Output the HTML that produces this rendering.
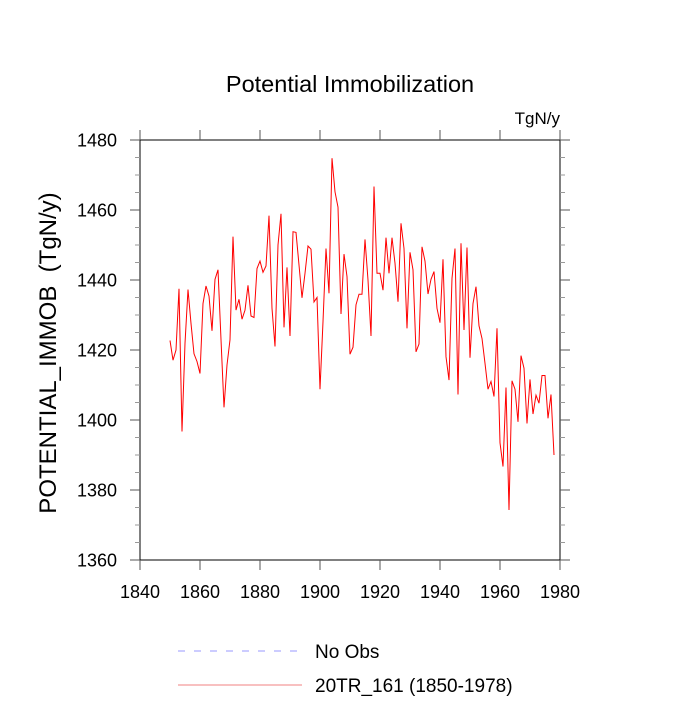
<!DOCTYPE html>
<html><head><meta charset="utf-8"><style>
body{margin:0;background:#fff}
svg text{font-family:"Liberation Sans",sans-serif;fill:#000}
</style></head><body>
<svg id="chart" width="700" height="700" xmlns="http://www.w3.org/2000/svg">
<text x="350" y="92" font-size="23.5" text-anchor="middle">Potential Immobilization</text>
<text x="560" y="124" font-size="17" text-anchor="end">TgN/y</text>
<text transform="translate(56,353) rotate(-90)" font-size="24" text-anchor="middle" xml:space="preserve">POTENTIAL_IMMOB  (TgN/y)</text>
<g id="axes"></g>
<polyline id="series" fill="none" stroke="#ff0000" stroke-width="1"/>
<g>
<line x1="178" y1="651" x2="300" y2="651" stroke="#9999ff" stroke-width="1" stroke-dasharray="7,9"/>
<text x="315" y="658" font-size="19">No Obs</text>
<line x1="178" y1="685" x2="302" y2="685" stroke="#f08080" stroke-width="1"/>
<text x="315" y="692" font-size="19">20TR_161 (1850-1978)</text>
</g>
</svg>
<script>
const startYear = 1850;
const values = [1422.7,1417.1,1420,1437.5,1396.7,1421.9,1437.3,1427.6,1418.9,1416.7,1413.3,1433.3,1438.3,1435.4,1425.5,1440.2,1442.9,1423,1403.6,1415.7,1422.9,1452.4,1431.4,1434.5,1428.8,1431.4,1438.5,1429.7,1429.3,1443.3,1445.4,1442.2,1444,1458.4,1431.9,1421,1450,1458.9,1426.5,1443.6,1424,1453.8,1453.6,1444.3,1434.9,1441.9,1449.7,1448.8,1433.7,1435,1408.8,1428.1,1449,1436.2,1474.8,1465.2,1460.8,1430.3,1447.4,1441,1418.8,1420.8,1432.9,1435.9,1435.9,1451.6,1440,1424,1466.7,1441.9,1441.9,1437.1,1452.1,1441.9,1452.1,1444.8,1433.8,1456.2,1449,1426.2,1447.9,1442.9,1419.5,1421.7,1449.5,1445.4,1436,1440.2,1442.4,1431.9,1427.8,1445.9,1418.1,1411.4,1440.5,1449,1407.3,1450.5,1425.7,1449.3,1417.8,1433.3,1438.1,1426.9,1423.3,1416.2,1408.8,1411,1406.7,1426.2,1393.5,1386.7,1409.3,1374.3,1411.2,1408.8,1399.5,1418.4,1414.8,1399,1411.6,1401.7,1407.1,1404.8,1412.7,1412.7,1400.5,1407.3,1390];
const xTicks = [1840,1860,1880,1900,1920,1940,1960,1980];
const yTicks = [1360,1380,1400,1420,1440,1460,1480];
const L=140,R=560,T=140,B=560,xmin=1840,xmax=1980,ymin=1360,ymax=1480;
const sx=v=>L+(v-xmin)/(xmax-xmin)*(R-L);
const sy=v=>B-(v-ymin)/(ymax-ymin)*(B-T);
const NS="http://www.w3.org/2000/svg";
const ax=document.getElementById('axes');
function mk(tag,attrs,parent){const e=document.createElementNS(NS,tag);for(const k in attrs)e.setAttribute(k,attrs[k]);(parent||ax).appendChild(e);return e;}
const box=mk('rect',{x:L,y:T,width:R-L,height:B-T,fill:'none',stroke:'#000','stroke-width':1});


const tc='#555';
xTicks.forEach(v=>{const x=sx(v);
mk('line',{x1:x,y1:B,x2:x,y2:B+10,stroke:tc});
mk('line',{x1:x,y1:T,x2:x,y2:T-10,stroke:tc});
const t=mk('text',{x:x,y:598,'font-size':18,'text-anchor':'middle'});t.textContent=v;


});
for(let v=ymin;v<=ymax;v+=5){const y=sy(v);const maj=(v%20===0);const len=maj?10:5;
mk('line',{x1:L,y1:y,x2:L-len,y2:y,stroke:maj?tc:'#999'});
mk('line',{x1:R,y1:y,x2:R+len,y2:y,stroke:maj?tc:'#999'});}
yTicks.forEach(v=>{const t=mk('text',{x:117,y:sy(v)+6.5,'font-size':18,'text-anchor':'end'});t.textContent=v;


});
document.getElementById('series').setAttribute('points',values.map((v,i)=>sx(startYear+i).toFixed(1)+','+sy(v).toFixed(1)).join(' '));
</script>
</body></html>
